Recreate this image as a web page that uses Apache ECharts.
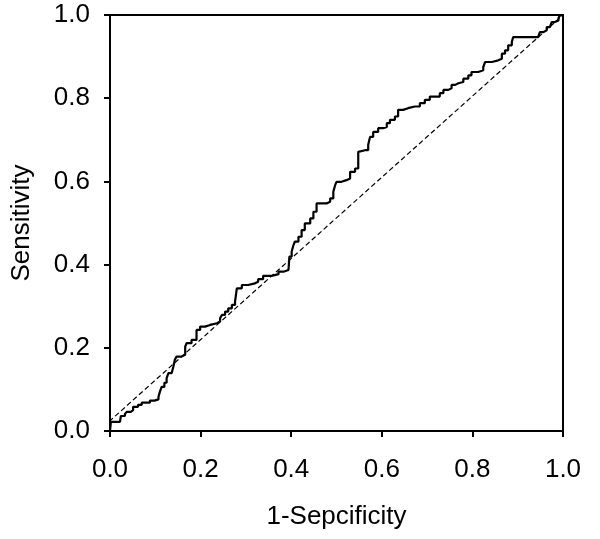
<!DOCTYPE html>
<html>
<head>
<meta charset="utf-8">
<script src="https://cdn.jsdelivr.net/npm/echarts@6/dist/echarts.min.js"></script>
<style>
    html, body { margin: 0; padding: 0; background: #fff; }
    #roc { width: 600px; height: 539px; }
</style>
</head>
<body>
<div id="roc"></div>
<script>
// ROC curve (1-specificity, sensitivity)
var fpr = [0, 0.002, 0.022, 0.024, 0.033, 0.037, 0.046, 0.051, 0.062, 0.070, 0.088, 0.098, 0.107, 0.110,
    0.114, 0.120, 0.125, 0.129, 0.136, 0.140, 0.143, 0.147, 0.158, 0.166, 0.169, 0.180, 0.191, 0.199,
    0.210, 0.221, 0.236, 0.243, 0.247, 0.254, 0.261, 0.269, 0.276, 0.280, 0.291, 0.305, 0.320, 0.327,
    0.338, 0.357, 0.372, 0.383, 0.394, 0.396, 0.401, 0.405, 0.408, 0.416, 0.423, 0.430, 0.442, 0.449,
    0.456, 0.478, 0.486, 0.493, 0.497, 0.500, 0.511, 0.522, 0.530, 0.541, 0.548, 0.552, 0.563, 0.570,
    0.574, 0.581, 0.592, 0.603, 0.611, 0.618, 0.629, 0.636, 0.647, 0.658, 0.673, 0.684, 0.695, 0.706,
    0.717, 0.728, 0.736, 0.747, 0.754, 0.762, 0.769, 0.780, 0.791, 0.798, 0.813, 0.824, 0.828, 0.843,
    0.857, 0.865, 0.872, 0.879, 0.887, 0.890, 0.945, 0.949, 0.957, 0.964, 0.971, 0.975, 0.982, 0.990,
    0.993, 1];
var tpr = [0, 0.022, 0.026, 0.036, 0.041, 0.046, 0.050, 0.058, 0.063, 0.068, 0.073, 0.076, 0.082, 0.094,
    0.106, 0.116, 0.127, 0.139, 0.140, 0.155, 0.171, 0.179, 0.183, 0.203, 0.211, 0.219, 0.243, 0.251,
    0.255, 0.259, 0.263, 0.271, 0.279, 0.287, 0.295, 0.303, 0.311, 0.343, 0.351, 0.355, 0.359, 0.365,
    0.373, 0.377, 0.383, 0.387, 0.387, 0.419, 0.431, 0.447, 0.455, 0.467, 0.483, 0.499, 0.511, 0.527,
    0.547, 0.551, 0.559, 0.575, 0.591, 0.599, 0.603, 0.607, 0.623, 0.631, 0.671, 0.675, 0.675, 0.688,
    0.707, 0.719, 0.728, 0.731, 0.740, 0.748, 0.756, 0.772, 0.776, 0.780, 0.780, 0.788, 0.796, 0.804,
    0.804, 0.812, 0.820, 0.824, 0.832, 0.836, 0.839, 0.847, 0.855, 0.863, 0.867, 0.875, 0.887, 0.891,
    0.895, 0.907, 0.915, 0.927, 0.935, 0.947, 0.947, 0.959, 0.963, 0.971, 0.975, 0.983, 0.987, 0.993,
    0.999, 1];
// reference diagonal (dashed)
var diagX = [-0.015, 1];
var diagY = [0.01, 1];

var curve = [];
for (var i in fpr) {
    curve.push([fpr[i], tpr[i]]);
}
var diag = [];
for (var j in diagX) {
    diag.push([diagX[j], diagY[j]]);
}

var font = 'Liberation Sans, Arial, sans-serif';
var chart = echarts.init(document.getElementById('roc'));
var option = {
    animation: false,
    grid: {
        left: 110, right: 37, top: 15, bottom: 108,
        show: true,
        borderColor: '#000',
        borderWidth: 2
    },
    xAxis: {
        type: 'value',
        min: 0, max: 1, interval: 0.2,
        name: '1-Sepcificity',
        nameLocation: 'middle',
        nameGap: 73,
        nameTextStyle: { color: '#000', fontSize: 26, fontFamily: font },
        axisLine: { lineStyle: { color: '#000', width: 2 } },
        axisTick: { show: true, length: 6, lineStyle: { color: '#000', width: 2 } },
        axisLabel: {
            color: '#000', fontSize: 26, fontFamily: font, margin: 26,
            formatter: function (v) { return v.toFixed(1); }
        },
        splitLine: { show: false }
    },
    yAxis: {
        type: 'value',
        min: 0, max: 1, interval: 0.2,
        name: 'Sensitivity',
        nameLocation: 'middle',
        nameGap: 75,
        nameTextStyle: { color: '#000', fontSize: 26, fontFamily: font },
        axisLine: { lineStyle: { color: '#000', width: 2 } },
        axisTick: { show: true, length: 6, lineStyle: { color: '#000', width: 2 } },
        axisLabel: {
            color: '#000', fontSize: 26, fontFamily: font, margin: 20,
            formatter: function (v) { return v.toFixed(1); }
        },
        splitLine: { show: false }
    },
    series: [{
        type: 'line',
        data: diag,
        symbol: 'none',
        clip: false,
        lineStyle: { color: '#000', width: 1.2, type: [5, 3] }
    }, {
        type: 'line',
        data: curve,
        step: 'end',
        symbol: 'none',
        lineStyle: { color: '#000', width: 2.2 }
    }]
};
chart.setOption(option);
</script>
</body>
</html>
